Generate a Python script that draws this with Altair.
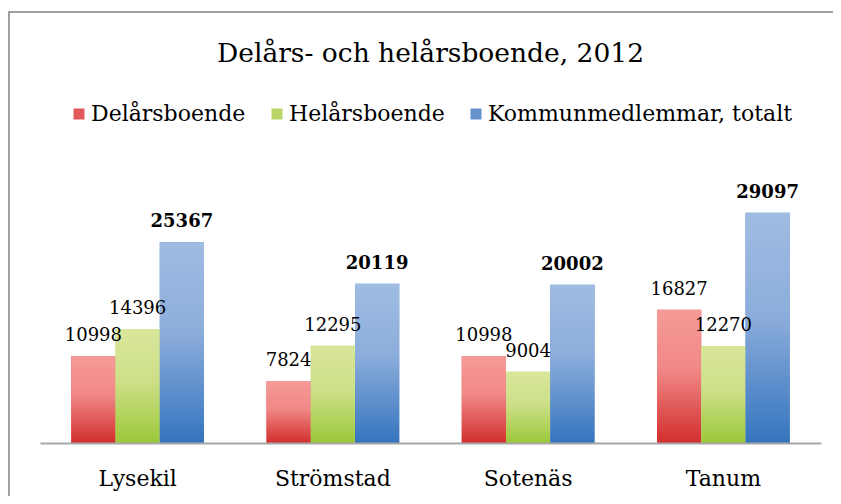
import altair as alt
import pandas as pd

kommuner = ["Lysekil", "Strömstad", "Sotenäs", "Tanum"]
serier = ["Delårsboende", "Helårsboende", "Kommunmedlemmar, totalt"]
delars = [10998, 7824, 10998, 16827]
helars = [14396, 12295, 9004, 12270]
totalt = [25367, 20119, 20002, 29097]

rows = []
for i, k in enumerate(kommuner):
    for s, vals in zip(serier, [delars, helars, totalt]):
        rows.append({"kommun": k, "serie": s, "value": vals[i]})
df = pd.DataFrame(rows)

FONT = "DejaVu Serif"
legend_colors = ["#E05858", "#BBD566", "#6692CE"]
grad_stops = {
    "Delårsboende": ["#F59A98", "#F08886", "#D12E2D"],
    "Helårsboende": ["#D9E69B", "#CDE088", "#9CC83A"],
    "Kommunmedlemmar, totalt": ["#9FBCE2", "#8CADDB", "#3474BE"],
}

x_enc = alt.X("kommun:N", sort=kommuner, title=None,
              scale=alt.Scale(paddingInner=0.32, paddingOuter=0.16),
              axis=alt.Axis(labelFont=FONT, labelFontSize=22, labelColor="#000000",
                            labelAngle=0, ticks=False, domainColor="#A6A6A6",
                            domainWidth=2, labelPadding=25, zindex=1))
xo_enc = alt.XOffset("serie:N", sort=serier, scale=alt.Scale(domain=serier, paddingInner=0))
y_enc = alt.Y("value:Q", scale=alt.Scale(domain=[0, 35000]), axis=None)

base = alt.Chart(df)

frame = base.mark_rect(fill="transparent", stroke="#A0A0A0", strokeWidth=2, clip=False).encode(
    x=alt.value(-31), x2=alt.value(800), y=alt.value(-154), y2=alt.value(400)
).transform_filter(alt.datum.serie == "Delårsboende").transform_filter(alt.datum.kommun == "Lysekil")

legend_bars = base.mark_bar().encode(
    x=x_enc, xOffset=xo_enc, y=y_enc,
    color=alt.Color("serie:N", sort=serier,
                    scale=alt.Scale(domain=serier, range=legend_colors),
                    legend=alt.Legend(title=None, orient="none", direction="horizontal",
                                      legendX=28, legendY=-63, symbolType="square",
                                      symbolSize=121, symbolStrokeWidth=0,
                                      labelFont=FONT, labelFontSize=22, labelColor="#000000",
                                      labelOffset=1, columnPadding=20, padding=0,
                                      labelLimit=500)),
)

layers = [frame, legend_bars]
for s in serier:
    c = grad_stops[s]
    grad = alt.LinearGradient(
        gradient="linear", x1=0, x2=0, y1=0, y2=1,
        stops=[alt.GradientStop(color=c[0], offset=0),
               alt.GradientStop(color=c[1], offset=0.45),
               alt.GradientStop(color=c[2], offset=1)],
    )
    layers.append(
        base.transform_filter(alt.datum.serie == s)
        .mark_bar(color=grad)
        .encode(x=x_enc, xOffset=xo_enc, y=y_enc)
    )

labels = base.transform_filter(alt.datum.serie != "Kommunmedlemmar, totalt").mark_text(
    font=FONT, fontSize=18, color="#000000", baseline="alphabetic", dy=-15
).encode(x=x_enc, xOffset=xo_enc, y=y_enc, text="value:Q")

labels_total = base.transform_filter(alt.datum.serie == "Kommunmedlemmar, totalt").mark_text(
    font=FONT, fontSize=18, fontWeight="bold", color="#000000", baseline="alphabetic", dy=-15
).encode(x=x_enc, xOffset=xo_enc, y=y_enc, text="value:Q")

layers += [labels, labels_total]

chart = alt.layer(*layers).properties(
    width=781, height=277,
    autosize=alt.AutoSizeParams(type="none"),
    padding={"left": 32, "top": 158, "right": 12, "bottom": 53},
    title=alt.TitleParams("Delårs- och helårsboende, 2012", font=FONT, fontSize=26.5,
                          fontWeight="normal", color="#000000", anchor="middle", offset=-56),
).configure_view(stroke=None)

chart.save("out.html", embed_options={"renderer": "svg", "actions": False})
